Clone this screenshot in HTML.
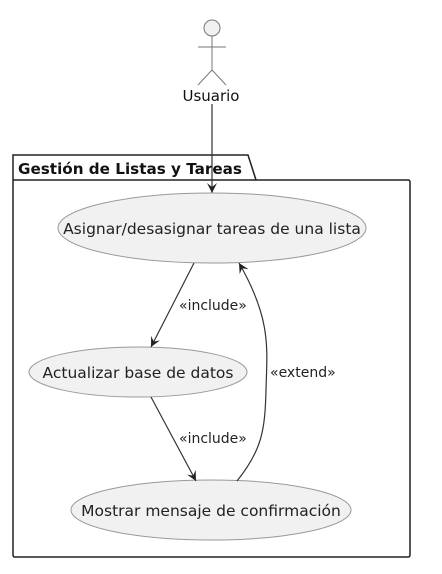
<!DOCTYPE html>
<html><head><meta charset="utf-8"><style>html,body{margin:0;padding:0;background:#fff}svg{display:block}</style></head>
<body>
<svg width="442" height="574" viewBox="0 0 442 574" xmlns="http://www.w3.org/2000/svg" font-family="DejaVu Sans, Liberation Sans, sans-serif">
<defs><marker id="a" viewBox="0 0 10 10" refX="10" refY="5" markerWidth="10" markerHeight="10" markerUnits="userSpaceOnUse" orient="auto"><path d="M0,0 L10,5 L0,10 L4,5 Z" fill="#222"/></marker></defs>
<!-- actor -->
<circle cx="212" cy="28" r="8" fill="#f1f1f1" stroke="#777" stroke-width="1"/>
<path d="M212 36 V70 M198 47 H226 M198 85 L212 70 L226 85" stroke="#777" fill="none"/>
<text x="211" y="101" font-size="15" text-anchor="middle" fill="#111">Usuario</text>
<!-- package -->
<path d="M13 180 V155 H248 L256 180 H408 Q410 180 410 182 V555 Q410 557 408 557 H15 Q13 557 13 555 Z" fill="none" stroke="#222" stroke-width="1.5"/>
<line x1="13" y1="180" x2="256" y2="180" stroke="#222" stroke-width="1.5"/>
<text x="18" y="174" font-size="15.2" font-weight="bold" fill="#111">Gestión de Listas y Tareas</text>
<!-- actor line -->
<line x1="212" y1="104" x2="212" y2="193" stroke="#333" stroke-width="1.2" marker-end="url(#a)"/>
<!-- ellipses -->
<ellipse cx="212" cy="228" rx="154" ry="35" fill="#f1f1f1" stroke="#999"/>
<text x="212" y="234" font-size="15.5" text-anchor="middle" fill="#222">Asignar/desasignar tareas de una lista</text>
<ellipse cx="138" cy="372" rx="109" ry="25" fill="#f1f1f1" stroke="#999"/>
<text x="138" y="378" font-size="15.5" text-anchor="middle" fill="#222">Actualizar base de datos</text>
<ellipse cx="211" cy="510" rx="140" ry="30" fill="#f1f1f1" stroke="#999"/>
<text x="211" y="516" font-size="15.5" text-anchor="middle" fill="#222">Mostrar mensaje de confirmación</text>
<!-- include 1 -->
<line x1="194" y1="263" x2="151" y2="347" stroke="#333" stroke-width="1.2" marker-end="url(#a)"/>
<text x="179" y="310" font-size="14" fill="#222">«include»</text>
<!-- include 2 -->
<line x1="151" y1="397" x2="196" y2="481" stroke="#333" stroke-width="1.2" marker-end="url(#a)"/>
<text x="179" y="443" font-size="14" fill="#222">«include»</text>
<!-- extend -->
<path d="M237 481 C262 450 265 430 266 390 C267 350 272 320 239 263" fill="none" stroke="#333" stroke-width="1.2" marker-end="url(#a)"/>
<text x="270" y="377" font-size="14" fill="#222">«extend»</text>
</svg>
</body></html>
